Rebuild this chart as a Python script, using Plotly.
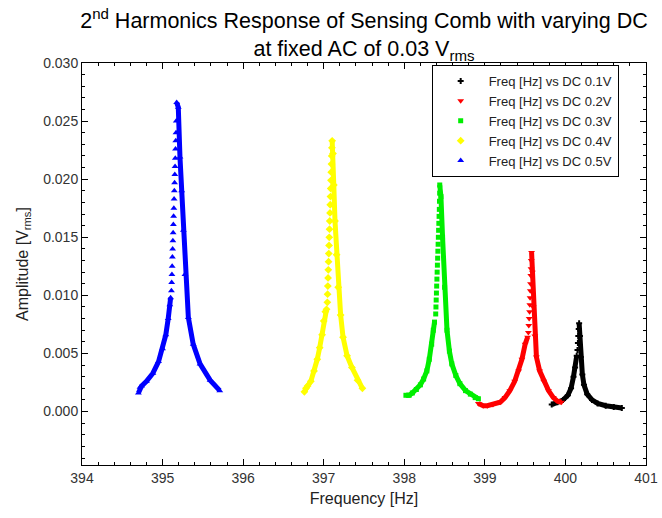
import plotly.graph_objects as go

# ---------------- data ----------------
series_names = ["Freq [Hz] vs DC 0.1V", "Freq [Hz] vs DC 0.2V", "Freq [Hz] vs DC 0.3V",
                "Freq [Hz] vs DC 0.4V", "Freq [Hz] vs DC 0.5V"]

# DC 0.1 V
f01_left = [399.83, 399.90, 399.97, 400.03, 400.07, 400.10, 400.12, 400.14]
a01_left = [0.0006, 0.0008, 0.0010, 0.0014, 0.0020, 0.0030, 0.0038, 0.0048]
f01_jump = [400.150, 400.155, 400.160, 400.165]
a01_jump = [0.0053, 0.0059, 0.0065, 0.0071]
f01_right = [400.17, 400.18, 400.19, 400.21, 400.23, 400.27, 400.33, 400.40, 400.50, 400.60, 400.70]
a01_right = [0.0076, 0.0065, 0.0047, 0.0032, 0.0023, 0.0015, 0.0010, 0.0007, 0.0005, 0.0004, 0.0003]

# DC 0.2 V
f02_left = [398.92, 398.98, 399.03, 399.10, 399.19, 399.25, 399.31, 399.37, 399.42, 399.46, 399.50, 399.53]
a02_left = [0.0007, 0.0005, 0.0005, 0.0006, 0.0008, 0.0012, 0.0018, 0.0026, 0.0035, 0.0045, 0.0058, 0.0064]
f02_jump = [399.540, 399.545, 399.550, 399.555, 399.558, 399.561, 399.564, 399.567, 399.570, 399.573, 399.576]
a02_jump = [0.0068, 0.0074, 0.0080, 0.0086, 0.0092, 0.0098, 0.0104, 0.0110, 0.0117, 0.0123, 0.0130]
f02_right = [399.58, 399.59, 399.60, 399.62, 399.64, 399.68, 399.73, 399.79, 399.85, 399.90, 399.95]
a02_right = [0.0137, 0.0120, 0.0090, 0.0065, 0.0047, 0.0035, 0.0026, 0.0018, 0.0012, 0.0009, 0.0008]

# DC 0.3 V
f03_left = [398.02, 398.06, 398.10, 398.15, 398.20, 398.24, 398.28, 398.31, 398.34, 398.36, 398.375]
a03_left = [0.0014, 0.0014, 0.0016, 0.0019, 0.0023, 0.0028, 0.0035, 0.0045, 0.0058, 0.0070, 0.0077]
f03_jump = [398.390, 398.393, 398.396, 398.399, 398.402, 398.405, 398.408, 398.411, 398.414,
            398.417, 398.420, 398.423, 398.426, 398.429, 398.432, 398.435, 398.437, 398.439]
a03_jump = [0.0084, 0.0090, 0.0096, 0.0102, 0.0108, 0.0114, 0.0120, 0.0126, 0.0132,
            0.0138, 0.0144, 0.0150, 0.0156, 0.0162, 0.0168, 0.0174, 0.0181, 0.0188]
f03_right = [398.44, 398.455, 398.475, 398.50, 398.53, 398.56, 398.59, 398.64, 398.69, 398.76, 398.82, 398.88, 398.92]
a03_right = [0.0195, 0.0185, 0.0150, 0.0107, 0.0070, 0.0052, 0.0041, 0.0031, 0.0024, 0.0018, 0.0015, 0.0012, 0.0011]

# DC 0.4 V
f04_left = [396.76, 396.78, 396.80, 396.84, 396.88, 396.92, 396.95, 396.98, 397.00, 397.02, 397.035]
a04_left = [0.0017, 0.0020, 0.0022, 0.0026, 0.0035, 0.0045, 0.0055, 0.0066, 0.0078, 0.0086, 0.0088]
f04_jump = [397.045, 397.048, 397.051, 397.054, 397.057, 397.060, 397.063, 397.066, 397.069, 397.072,
            397.075, 397.078, 397.081, 397.084, 397.087, 397.090, 397.093, 397.096, 397.099, 397.102]
a04_jump = [0.0094, 0.0101, 0.0108, 0.0115, 0.0122, 0.0129, 0.0136, 0.0143, 0.0150, 0.0157,
            0.0164, 0.0171, 0.0178, 0.0185, 0.0192, 0.0199, 0.0206, 0.0213, 0.0220, 0.0227]
f04_right = [397.105, 397.115, 397.125, 397.14, 397.16, 397.18, 397.21, 397.24, 397.29, 397.35, 397.42, 397.48]
a04_right = [0.0233, 0.0222, 0.0195, 0.0164, 0.0135, 0.0107, 0.0083, 0.0064, 0.0048, 0.0038, 0.0027, 0.0020]

# DC 0.5 V
f05_left = [394.70, 394.72, 394.74, 394.80, 394.88, 394.95, 395.00, 395.04, 395.07, 395.09, 395.10]
a05_left = [0.0016, 0.0021, 0.0022, 0.0026, 0.0033, 0.0043, 0.0054, 0.0066, 0.0080, 0.0092, 0.0098]
f05_jump = [395.110, 395.113, 395.116, 395.119, 395.122, 395.125, 395.128, 395.131, 395.134, 395.137, 395.140,
            395.143, 395.146, 395.149, 395.152, 395.155, 395.158, 395.161, 395.164, 395.167, 395.170]
a05_jump = [0.0104, 0.0111, 0.0118, 0.0125, 0.0133, 0.0140, 0.0147, 0.0154, 0.0161, 0.0168, 0.0175,
            0.0183, 0.0190, 0.0197, 0.0204, 0.0211, 0.0218, 0.0226, 0.0233, 0.0240, 0.0250]
f05_right = [395.175, 395.195, 395.216, 395.237, 395.258, 395.278, 395.32, 395.38, 395.465, 395.59, 395.71]
a05_right = [0.0266, 0.0262, 0.0219, 0.0190, 0.0156, 0.0118, 0.0081, 0.0058, 0.0041, 0.0027, 0.0018]

x_ticks = [394, 395, 396, 397, 398, 399, 400, 401]
y_ticks = [0.000, 0.005, 0.010, 0.015, 0.020, 0.025, 0.030]

# ---------------- styling ----------------
colors = ["#000000", "#ff0000", "#00ee00", "#ffff00", "#0000ff"]
symbols = ["cross", "triangle-down", "square", "diamond", "triangle-up"]
msizes = [5, 6, 5, 6, 6]

data = [
    (f01_left, a01_left, f01_jump, a01_jump, f01_right, a01_right),
    (f02_left, a02_left, f02_jump, a02_jump, f02_right, a02_right),
    (f03_left, a03_left, f03_jump, a03_jump, f03_right, a03_right),
    (f04_left, a04_left, f04_jump, a04_jump, f04_right, a04_right),
    (f05_left, a05_left, f05_jump, a05_jump, f05_right, a05_right),
]

FONT = "Liberation Sans, Arial, sans-serif"
fig = go.Figure()

for i, (fl, al, fj, aj, fr, ar) in enumerate(data):
    fig.add_trace(go.Scatter(
        x=fl + [None] + fr, y=al + [None] + ar, mode="lines",
        line=dict(color=colors[i], width=5), showlegend=False,
        legendgroup=str(i), hoverinfo="skip"))
    fig.add_trace(go.Scatter(
        x=fl + fj + fr, y=al + aj + ar, mode="markers", name=series_names[i],
        legendgroup=str(i),
        marker=dict(color=colors[i], symbol=symbols[i], size=msizes[i],
                    line=dict(width=0))))

axis_common = dict(
    showline=True, linecolor="black", linewidth=1, mirror="ticks",
    ticks="inside", ticklen=6, tickcolor="black", showgrid=False, zeroline=False,
    automargin=False,
    tickfont=dict(family=FONT, size=14, color="#333333"),
)

fig.update_xaxes(
    range=[394, 401], tickvals=x_ticks, ticktext=[str(v) for v in x_ticks],
    minor=dict(ticks="inside", dtick=0.2, ticklen=3, tickcolor="black"),
    title=dict(text="Frequency [Hz]", font=dict(family=FONT, size=16, color="#222222"), standoff=8),
    **axis_common)
fig.update_yaxes(
    range=[-0.0046, 0.030], tickvals=y_ticks, ticktext=[f"{v:.3f}" for v in y_ticks],
    minor=dict(ticks="inside", dtick=0.001, ticklen=3, tickcolor="black"),
    title=dict(text="Amplitude [V<sub>rms</sub>]", font=dict(family=FONT, size=16, color="#222222"), standoff=10),
    **axis_common)

fig.update_layout(
    width=662, height=518,
    margin=dict(l=82, r=16, t=63, b=53),
    paper_bgcolor="white", plot_bgcolor="white",
    title=dict(text="2<sup>nd</sup> Harmonics Response of Sensing Comb with varying DC<br>at fixed AC of 0.03 V<sub>rms</sub>",
               x=0.5, xref="paper", y=0.945, yref="container", yanchor="middle",
               font=dict(family=FONT, size=21.5, color="black")),
    legend=dict(x=0.62, y=0.995, xanchor="left", yanchor="top",
                bgcolor="white", bordercolor="black", borderwidth=1,
                font=dict(family=FONT, size=13, color="#222222"),
                itemwidth=46, tracegroupgap=0),
    showlegend=True,
)

fig.write_html("out.html")
